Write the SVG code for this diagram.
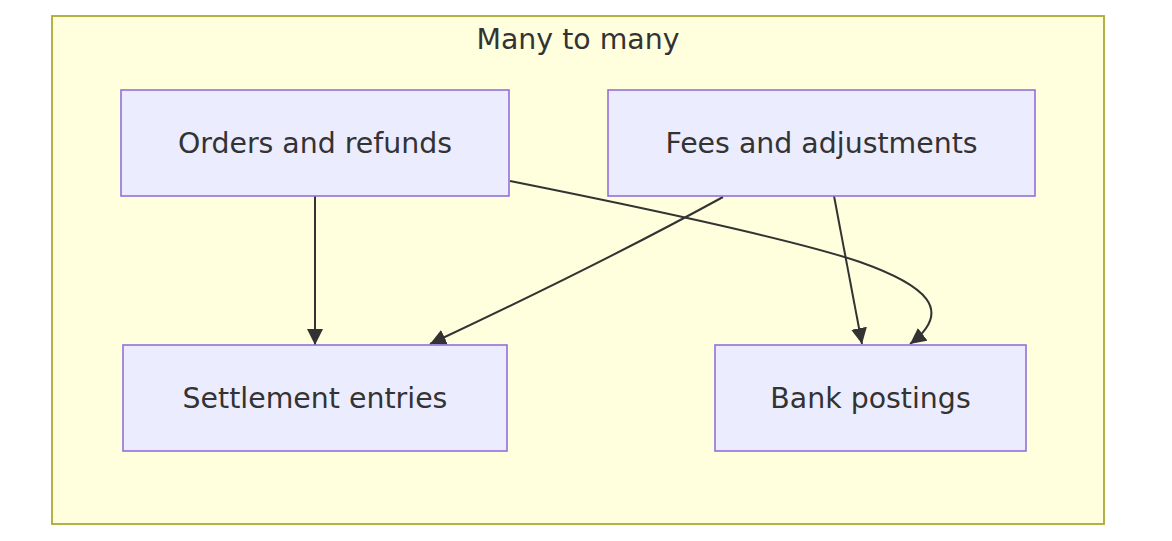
<svg xmlns="http://www.w3.org/2000/svg" width="1172" height="541" viewBox="0 0 1172 541">
<style>
.cluster{fill:#ffffde;stroke:#aaaa33;stroke-width:1.8}
.node rect{fill:#ececff;stroke:#9370db;stroke-width:1.6}
.lbl{font-family:"DejaVu Sans",Verdana,sans-serif;font-size:28.4px;fill:#333333;text-anchor:middle;dominant-baseline:central}
.edge{fill:none;stroke:#333333;stroke-width:2}
</style>
<defs>
<marker id="arrow" markerUnits="userSpaceOnUse" viewBox="0 0 16 16" refX="16" refY="8" markerWidth="16" markerHeight="16" orient="auto">
<path d="M0,0 L16,8 L0,16 z" fill="#333333"/>
</marker>
</defs>
<g id="cluster-many">
<rect class="cluster" x="52" y="16" width="1052" height="508"/>
<text class="lbl" x="578" y="39">Many to many</text>
</g>
<g id="connectors">
<path class="edge" d="M315,196 L315,345" marker-end="url(#arrow)"/>
<path class="edge" d="M510,181 C700,219 810,245 860,262 C925,285 955,310 910,344" marker-end="url(#arrow)"/>
<path class="edge" d="M723,197 C650,237 560,283 430,344" marker-end="url(#arrow)"/>
<path class="edge" d="M834,196 L862,344" marker-end="url(#arrow)"/>
</g>
<g id="node-orders" class="node">
<rect x="121" y="90" width="388" height="106"/>
<text class="lbl" x="315" y="143">Orders and refunds</text>
</g>
<g id="node-fees" class="node">
<rect x="608" y="90" width="427" height="106"/>
<text class="lbl" x="821.5" y="143">Fees and adjustments</text>
</g>
<g id="node-settlement" class="node">
<rect x="123" y="345" width="384" height="106"/>
<text class="lbl" x="315" y="398">Settlement entries</text>
</g>
<g id="node-bank" class="node">
<rect x="715" y="345" width="311" height="106"/>
<text class="lbl" x="870.5" y="398">Bank postings</text>
</g>
</svg>
